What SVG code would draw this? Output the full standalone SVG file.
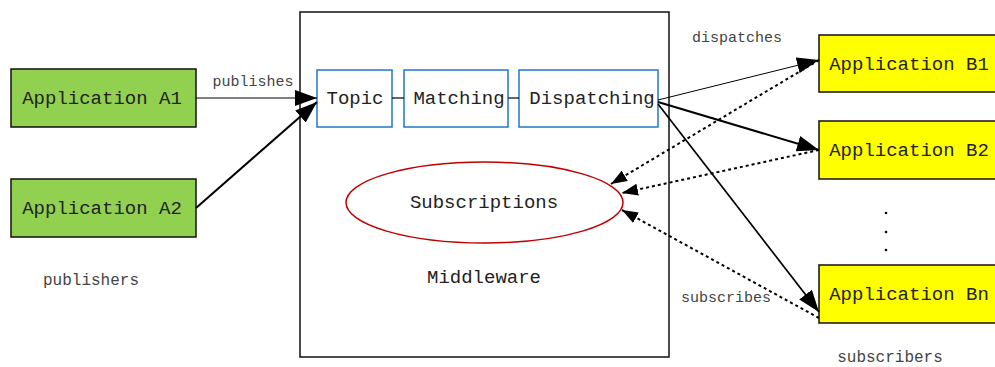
<svg xmlns="http://www.w3.org/2000/svg" width="995" height="367" viewBox="0 0 995 367">
<style>
text{font-family:"Liberation Mono","DejaVu Sans Mono",monospace;fill:#222;text-anchor:middle}
.big{font-size:19px}
.lbl{font-size:15px;fill:#444}
.green{fill:#92d050;stroke:#111;stroke-width:1.5}
.yellow{fill:#ffff00;stroke:#111;stroke-width:1.5}
.blue{fill:#fff;stroke:#1f78c8;stroke-width:1.5}
.c{fill:none;stroke:#000}
.dot{stroke-dasharray:3 3;stroke-width:2}
</style>
<defs>
<marker id="ah" viewBox="0 0 22 16" refX="22" refY="8" markerWidth="22" markerHeight="16" markerUnits="userSpaceOnUse" orient="auto">
<path d="M0,0 L22,8 L0,16 Z" fill="#000"/>
</marker>
<marker id="ahs" viewBox="0 0 16 12" refX="16" refY="6" markerWidth="16" markerHeight="12" markerUnits="userSpaceOnUse" orient="auto">
<path d="M0,0 L16,6 L0,12 Z" fill="#000"/>
</marker>
</defs>
<rect width="995" height="367" fill="#fff"/>
<g id="middleware">
<rect x="300" y="12" width="369" height="345" fill="none" stroke="#111" stroke-width="1.5"/>
<text class="big" x="484" y="283">Middleware</text>
</g>
<g id="topic"><rect class="blue" x="317" y="70" width="75" height="57"/><text class="big" x="355" y="104">Topic</text></g>
<g id="matching"><rect class="blue" x="404" y="70" width="104" height="57"/><text class="big" x="459" y="104">Matching</text></g>
<g id="dispatching"><rect class="blue" x="519" y="70" width="139" height="57"/><text class="big" x="592" y="104">Dispatching</text></g>
<g id="subscriptions"><ellipse cx="484.5" cy="202.5" rx="138.5" ry="40.5" fill="none" stroke="#c00000" stroke-width="1.5"/><text class="big" x="484" y="208">Subscriptions</text></g>
<g id="appA1"><rect class="green" x="11" y="69" width="185" height="58"/><text class="big" x="102" y="104">Application A1</text></g>
<g id="appA2"><rect class="green" x="11" y="179" width="185" height="58"/><text class="big" x="102" y="214">Application A2</text></g>
<g id="appB1"><rect class="yellow" x="819" y="35" width="180" height="57"/><text class="big" x="909" y="70">Application B1</text></g>
<g id="appB2"><rect class="yellow" x="819" y="121" width="180" height="58"/><text class="big" x="909" y="156">Application B2</text></g>
<g id="appBn"><rect class="yellow" x="819" y="265" width="180" height="58"/><text class="big" x="909" y="300">Application Bn</text></g>
<g id="labels">
<text class="lbl" x="253" y="86">publishes</text>
<text class="lbl" x="737" y="42">dispatches</text>
<text class="lbl" x="726" y="302">subscribes</text>
<text class="lbl" x="91" y="285" style="font-size:16px">publishers</text>
<text class="lbl" x="890" y="362" style="font-size:16px">subscribers</text>
<circle cx="886" cy="213" r="1.3" fill="#000"/>
<circle cx="886" cy="232" r="1.3" fill="#000"/>
<circle cx="886" cy="250" r="1.3" fill="#000"/>
</g>
<g id="connectors">
<line class="c" x1="392" y1="98" x2="404" y2="98" stroke-width="1.2"/>
<line class="c" x1="508" y1="98" x2="519" y2="98" stroke-width="1.2"/>
<line class="c" x1="196" y1="98" x2="317" y2="98" stroke="#555" stroke-width="1" marker-end="url(#ah)"/>
<line class="c" x1="196" y1="208" x2="317" y2="102" stroke-width="2" marker-end="url(#ah)"/>
<line class="c" x1="658" y1="100" x2="819" y2="60" stroke-width="1" marker-end="url(#ah)"/>
<line class="c" x1="658" y1="102" x2="819" y2="150" stroke-width="2" marker-end="url(#ah)"/>
<line class="c" x1="658" y1="104" x2="819" y2="312" stroke-width="1.7" marker-end="url(#ah)"/>
<line class="c dot" x1="819" y1="60" x2="611" y2="184" marker-end="url(#ahs)"/>
<line class="c dot" x1="819" y1="150" x2="622" y2="193" marker-end="url(#ahs)"/>
<line class="c dot" x1="819" y1="318" x2="622" y2="210" marker-end="url(#ahs)"/>
</g>
</svg>
